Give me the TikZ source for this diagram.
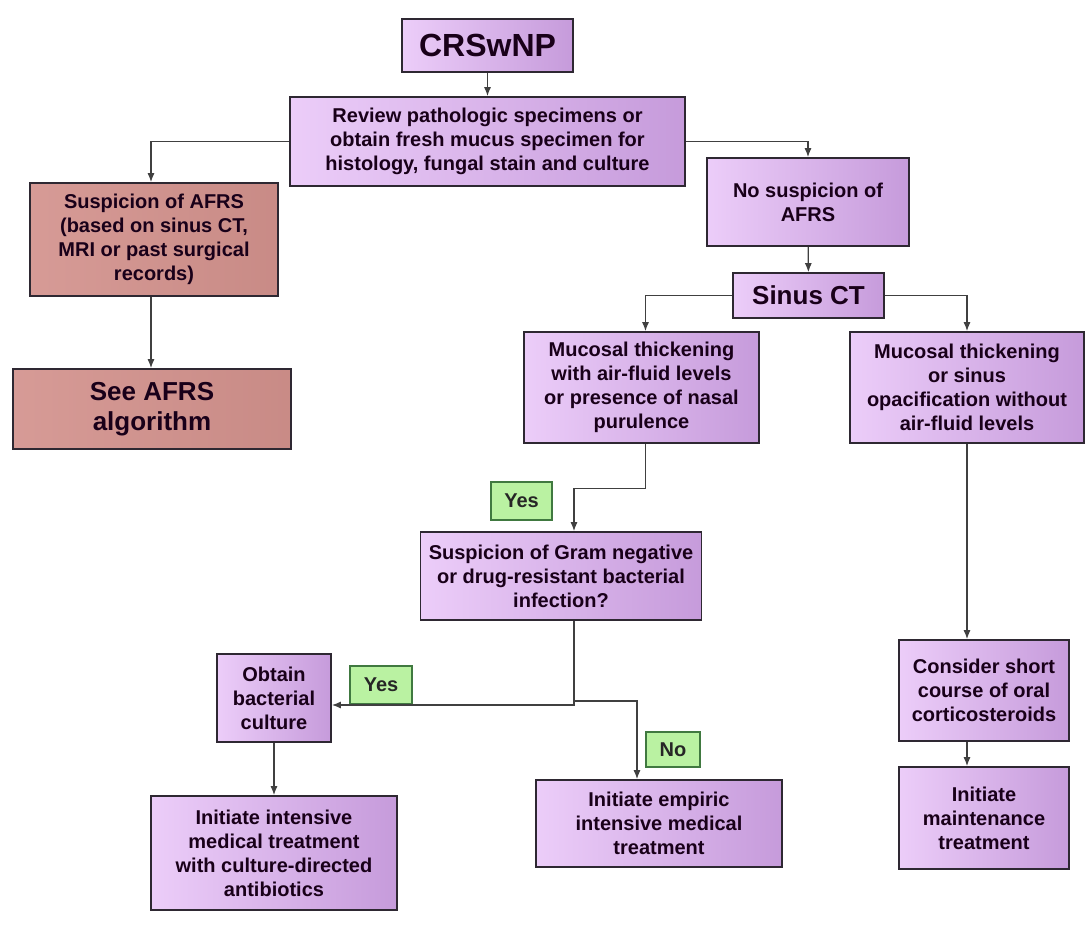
\documentclass[tikz,border=0pt]{standalone}
\usepackage{fontspec}
\setmainfont{Liberation Sans}
\usepackage{tikz}
\usetikzlibrary{calc,arrows.meta,positioning}
\definecolor{lilaclight}{HTML}{ECCDF9}
\definecolor{lilacdark}{HTML}{C69BDB}
\definecolor{rosebox}{HTML}{D3928D}
\definecolor{answergreen}{HTML}{BAF2A2}
\definecolor{edgegray}{HTML}{2E2832}
\tikzset{
    >={Latex[length=9pt,width=7pt]},
    stepbox/.style={
        rectangle,
        draw=edgegray, line width=1.6pt,
        left color=lilaclight,
        right color=lilacdark,
        align=center,
        inner sep=0pt,
        text=black!80!violet,
        font={\fontsize{20}{24}\selectfont\bfseries}
    },
    afrsbox/.style={
        stepbox,
        left color=rosebox!92!white,
        right color=rosebox!95!black
    },
    answer/.style={
        rectangle,
        draw=green!30!black!75, line width=1.4pt,
        fill=answergreen,
        inner sep=0pt,
        text=black!85,
        font={\fontsize{20}{24}\selectfont\bfseries}
    },
    bigtext/.style={font={\fontsize{32}{36}\selectfont\bfseries}},
    midtext/.style={font={\fontsize{26}{30}\selectfont\bfseries}},
    line/.style={draw=black!75, line width=1.3pt, ->},
}
\begin{document}
\begin{tikzpicture}[x=1pt,y=-1pt]
    \useasboundingbox (0,0) rectangle (1086,924);

    \node[stepbox, bigtext, minimum width=171pt, minimum height=53pt] (crs) at (487.5,45.5) {CRSwNP};
    \node[stepbox, minimum width=395pt, minimum height=89pt] (review) at (487.5,141.5)
        {Review pathologic specimens or\\obtain fresh mucus specimen for\\histology, fungal stain and culture};
    \node[afrsbox, minimum width=248pt, minimum height=113pt] (afrs) at (154,239.5)
        {Suspicion of AFRS\\(based on sinus CT,\\MRI or past surgical\\records)};
    \node[afrsbox, midtext, minimum width=278pt, minimum height=80pt] (seeafrs) at (152,409) {See AFRS\\algorithm};
    \node[stepbox, minimum width=202pt, minimum height=88pt] (nosusp) at (808,202) {No suspicion of\\AFRS};
    \node[stepbox, midtext, minimum width=151pt, minimum height=45pt] (sinusct) at (808.5,295.5) {Sinus CT};
    \node[stepbox, minimum width=235pt, minimum height=111pt] (mucair) at (641.5,387.5)
        {Mucosal thickening\\with air-fluid levels\\or presence of nasal\\purulence};
    \node[stepbox, minimum width=234pt, minimum height=111pt] (mucopac) at (967,387.5)
        {Mucosal thickening\\or sinus\\opacification without\\air-fluid levels};
    \node[stepbox, minimum width=281pt, minimum height=88pt] (gram) at (561,576)
        {Suspicion of Gram negative\\or drug-resistant bacterial\\infection?};
    \node[stepbox, minimum width=114pt, minimum height=88pt] (culture) at (274,698) {Obtain\\bacterial\\culture};
    \node[stepbox, minimum width=246pt, minimum height=114pt] (directed) at (274,853)
        {Initiate intensive\\medical treatment\\with culture-directed\\antibiotics};
    \node[stepbox, minimum width=246pt, minimum height=87pt] (empiric) at (659,823.5)
        {Initiate empiric\\intensive medical\\treatment};
    \node[stepbox, minimum width=170pt, minimum height=101pt] (steroids) at (984,690.5)
        {Consider short\\course of oral\\corticosteroids};
    \node[stepbox, minimum width=170pt, minimum height=102pt] (maint) at (984,818)
        {Initiate\\maintenance\\treatment};

    % answers
    \node[answer, minimum width=61pt, minimum height=38pt] (yesair) at (521.5,501) {Yes};
    \node[answer, minimum width=62pt, minimum height=38pt] (yesgram) at (381,685) {Yes};
    \node[answer, minimum width=54pt, minimum height=35pt] (nogram) at (673,749.5) {No};

    \coordinate (split) at (574,701);

    \draw[line] (crs) to (review);
    \draw[line] (review.west) -| ([xshift=-3pt]afrs.north);
    \draw[line] (review.east) -| (nosusp.north);
    \draw[line] ([xshift=-3pt]afrs.south) to ([xshift=-1pt]seeafrs.north);
    \draw[line] (nosusp) to (sinusct);
    \draw[line] (sinusct.west) -| ([xshift=4pt]mucair.north);
    \draw[line] (sinusct.east) -| (mucopac.north);
    \draw[line] ([xshift=4pt]mucair.south) -- ++(0,45) -| ([xshift=13pt]gram.north);
    \draw[line] ([xshift=13pt]gram.south) |- ([yshift=-7pt]culture.east);
    \draw[line] (split) -| ([xshift=-22pt]empiric.north);
    \draw[line] (culture) to (directed);
    \draw[line] (mucopac.south) to ([xshift=-17pt]steroids.north);
    \draw[line] ([xshift=-17pt]steroids.south) to ([xshift=-17pt]maint.north);
\end{tikzpicture}
\end{document}
